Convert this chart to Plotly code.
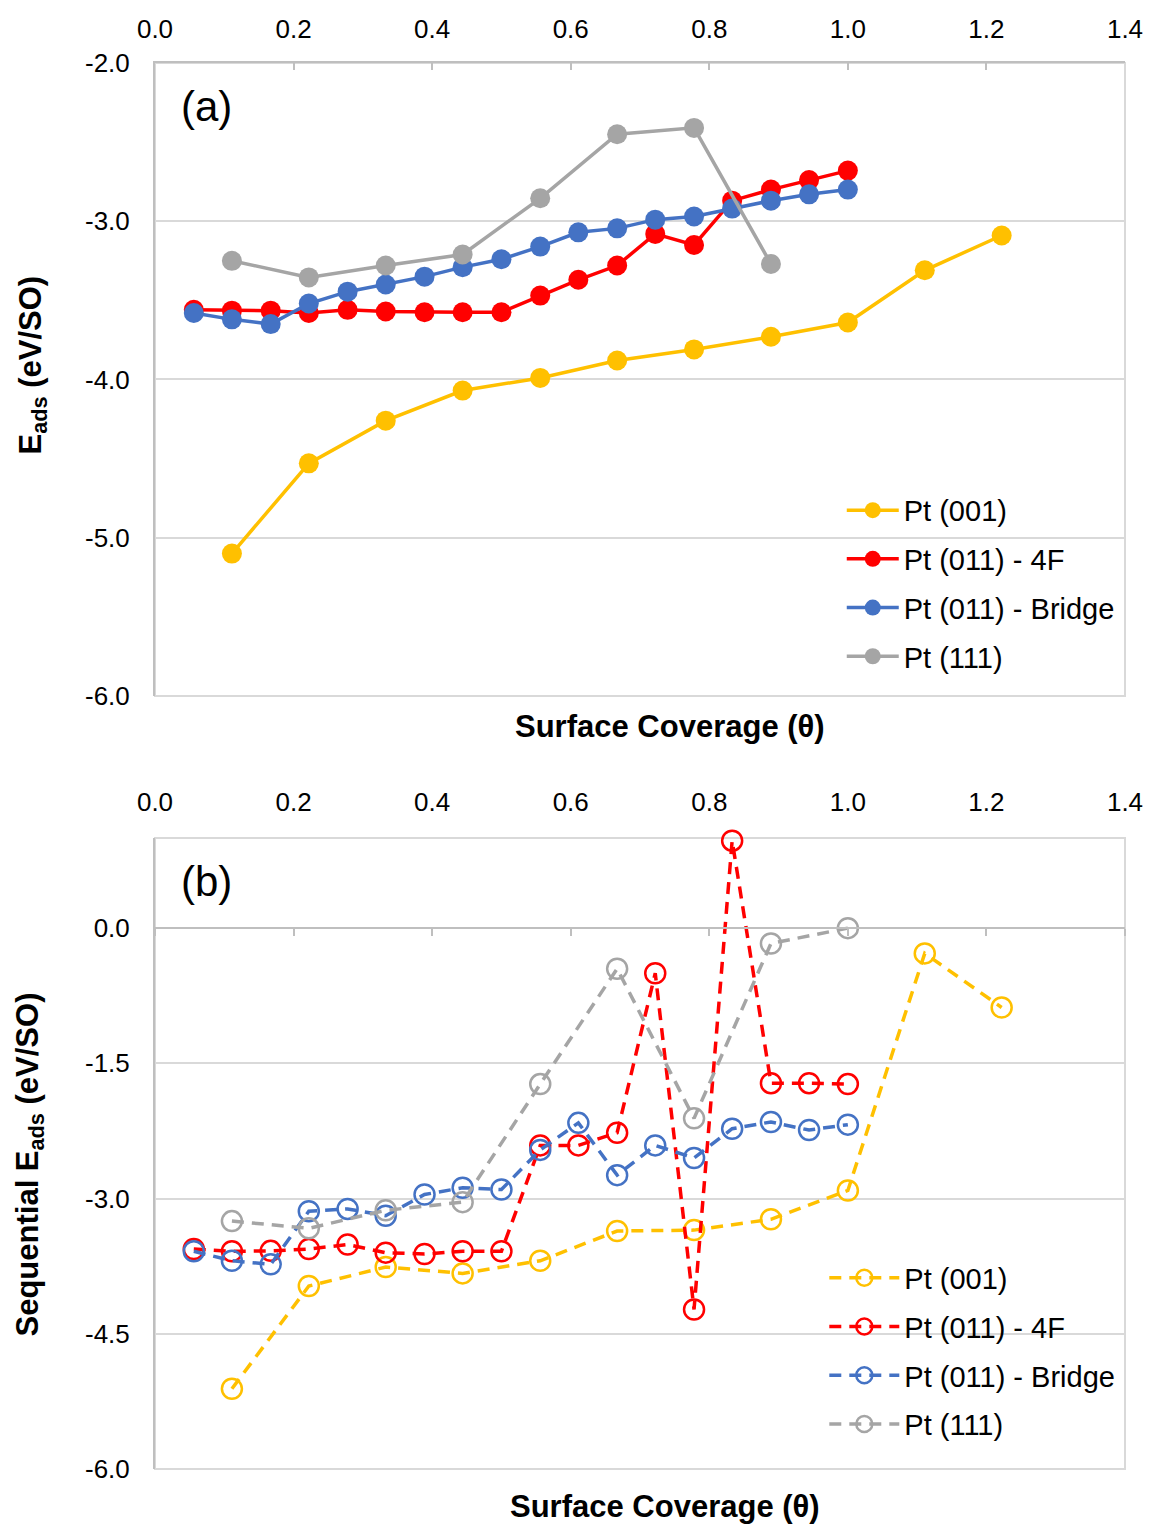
import plotly.graph_objects as go

# ---------------- data ----------------
theta_18 = [0.056, 0.111, 0.167, 0.222, 0.278, 0.333, 0.389, 0.444, 0.500,
            0.556, 0.611, 0.667, 0.722, 0.778, 0.833, 0.889, 0.944, 1.000]
theta_9 = [0.111, 0.222, 0.333, 0.444, 0.556, 0.667, 0.778, 0.889, 1.000, 1.111, 1.222]
theta_111_top = [0.111, 0.222, 0.333, 0.444, 0.556, 0.667, 0.778, 0.889]
theta_111_bot = [0.111, 0.222, 0.333, 0.444, 0.556, 0.667, 0.778, 0.889, 1.000]

series_names = ["Pt (001)", "Pt (011) - 4F", "Pt (011) - Bridge", "Pt (111)"]
series_colors = ["#FFC000", "#FF0000", "#4472C4", "#A5A5A5"]

# (a) adsorption energy
eads_001 = [-5.10, -4.53, -4.26, -4.07, -3.99, -3.88, -3.81, -3.73, -3.64, -3.31, -3.09]
eads_011_4f = [-3.56, -3.565, -3.565, -3.58, -3.56, -3.57, -3.575, -3.575, -3.575,
               -3.47, -3.37, -3.28, -3.08, -3.15, -2.87, -2.80, -2.74, -2.68]
eads_011_br = [-3.58, -3.62, -3.65, -3.52, -3.445, -3.40, -3.35, -3.29, -3.24,
               -3.16, -3.07, -3.045, -2.99, -2.97, -2.92, -2.87, -2.83, -2.80]
eads_111 = [-3.25, -3.355, -3.28, -3.21, -2.855, -2.45, -2.41, -3.27]

# (b) sequential adsorption energy
seq_001 = [-5.11, -3.97, -3.76, -3.83, -3.69, -3.36, -3.35, -3.23, -2.91, -0.28, -0.88]
seq_011_4f = [-3.56, -3.585, -3.58, -3.56, -3.51, -3.60, -3.615, -3.585, -3.585,
              -2.41, -2.41, -2.27, -0.50, -4.23, 0.97, -1.72, -1.72, -1.73]
seq_011_br = [-3.585, -3.69, -3.73, -3.14, -3.115, -3.19, -2.955, -2.88, -2.90,
              -2.46, -2.16, -2.74, -2.41, -2.55, -2.225, -2.15, -2.24, -2.18]
seq_111 = [-3.25, -3.33, -3.13, -3.04, -1.73, -0.45, -2.11, -0.17, 0.0]

x_ticks = [0.0, 0.2, 0.4, 0.6, 0.8, 1.0, 1.2, 1.4]
x_ticktext = ["0.0", "0.2", "0.4", "0.6", "0.8", "1.0", "1.2", "1.4"]
ya_ticks = [-6.0, -5.0, -4.0, -3.0, -2.0]
ya_ticktext = ["-6.0", "-5.0", "-4.0", "-3.0", "-2.0"]
yb_ticks = [-6.0, -4.5, -3.0, -1.5, 0.0]
yb_ticktext = ["-6.0", "-4.5", "-3.0", "-1.5", "0.0"]

# ---------------- figure ----------------
FONT = "Liberation Sans, Arial, sans-serif"
W, H = 1155, 1526
mt, mb, ml, mr = 63, 57, 155, 26
dom_a = [0.5498, 1.0]
dom_b = [0.0, 0.4488]
yb_range = [-6.0, 1.0]

fig = go.Figure()

top_x = [theta_9, theta_18, theta_18, theta_111_top]
top_y = [eads_001, eads_011_4f, eads_011_br, eads_111]
for i, (name, col, xs, ys) in enumerate(zip(series_names, series_colors, top_x, top_y)):
    fig.add_trace(go.Scatter(
        x=xs, y=ys, name=name, mode="lines+markers",
        line=dict(color=col, width=3.5),
        marker=dict(color=col, size=20, symbol="circle"),
        legendgroup=f"a{i}", cliponaxis=False,
        xaxis="x", yaxis="y", legend="legend"))

bot_x = [theta_9, theta_18, theta_18, theta_111_bot]
bot_y = [seq_001, seq_011_4f, seq_011_br, seq_111]
for i, (name, col, xs, ys) in enumerate(zip(series_names, series_colors, bot_x, bot_y)):
    fig.add_trace(go.Scatter(
        x=xs, y=ys, name=name, mode="lines+markers",
        line=dict(color=col, width=3.5, dash="12px,8px"),
        marker=dict(color=col, size=20, symbol="circle-open",
                    line=dict(color=col, width=2.5)),
        legendgroup=f"b{i}", cliponaxis=False,
        xaxis="x2", yaxis="y2", legend="legend2"))

# empty helper trace so the y=0 crossing axis of panel (b) is drawn
fig.add_trace(go.Scatter(x=[None], y=[None], xaxis="x3", yaxis="y2",
                         showlegend=False, hoverinfo="skip", mode="lines"))

tickfont = dict(family=FONT, size=26, color="#000000")
common_x = dict(range=[0, 1.4], tickvals=x_ticks, ticktext=x_ticktext,
                tickfont=tickfont, showgrid=False, zeroline=False, side="top")

fig.update_layout(
    width=W, height=H,
    margin=dict(t=mt, b=mb, l=ml, r=mr, pad=0),
    paper_bgcolor="white", plot_bgcolor="white",
    font=dict(family=FONT, color="#000000"),
    xaxis=dict(**common_x, domain=[0, 1], anchor="y", ticklabelstandoff=13,
               showline=True, linecolor="#BFBFBF", linewidth=2,
               ticks="inside", ticklen=7, tickwidth=2, tickcolor="#BFBFBF"),
    yaxis=dict(domain=dom_a, anchor="x", range=[-6.0, -2.0],
               tickvals=ya_ticks, ticktext=ya_ticktext, tickfont=tickfont,
               showgrid=True, gridcolor="#D9D9D9", gridwidth=2,
               showline=True, linecolor="#BFBFBF", linewidth=2,
               zeroline=False, ticks="", ticklabelstandoff=18),
    xaxis2=dict(**common_x, domain=[0, 1], anchor="y2", ticklabelstandoff=21,
                showline=False, ticks=""),
    xaxis3=dict(range=[0, 1.4], tickvals=x_ticks, overlaying="x2",
                anchor="free",
                position=dom_b[0] + (0 - yb_range[0]) / (yb_range[1] - yb_range[0]) * (dom_b[1] - dom_b[0]),
                side="bottom", showticklabels=False, showgrid=False, zeroline=False,
                showline=True, linecolor="#BFBFBF", linewidth=2,
                ticks="outside", ticklen=7, tickwidth=2, tickcolor="#BFBFBF"),
    yaxis2=dict(domain=dom_b, anchor="x2", range=yb_range,
                tickvals=yb_ticks, ticktext=yb_ticktext, tickfont=tickfont,
                showgrid=True, gridcolor="#D9D9D9", gridwidth=2,
                showline=True, linecolor="#BFBFBF", linewidth=2,
                zeroline=False, ticks="", ticklabelstandoff=18),
    legend=dict(x=0.708, y=0.700, xanchor="left", yanchor="top",
                bgcolor="rgba(0,0,0,0)", borderwidth=0, itemwidth=52,
                font=dict(family=FONT, size=29, color="#000000"),
                tracegroupgap=8),
    legend2=dict(x=0.690, y=0.154, xanchor="left", yanchor="top",
                 bgcolor="rgba(0,0,0,0)", borderwidth=0, itemwidth=70,
                 font=dict(family=FONT, size=29, color="#000000"),
                 tracegroupgap=8),
    showlegend=True,
)

# light-gray plot borders
for xr, yr in [("x domain", "y domain"), ("x2 domain", "y2 domain")]:
    fig.add_shape(type="rect", xref=xr, yref=yr, x0=0, x1=1, y0=0, y1=1,
                  line=dict(color="#D9D9D9", width=2), layer="below")

# panel labels and axis titles
fig.add_annotation(text="(a)", xref="x domain", yref="y domain", x=0.025, y=0.972,
                   xanchor="left", yanchor="top", showarrow=False,
                   font=dict(family=FONT, size=42, color="#000000"))
fig.add_annotation(text="(b)", xref="x2 domain", yref="y2 domain", x=0.025, y=0.972,
                   xanchor="left", yanchor="top", showarrow=False,
                   font=dict(family=FONT, size=42, color="#000000"))

title_font = dict(family=FONT, size=31, color="#000000")
def px_x(p):
    return (p - ml) / (W - ml - mr)
def px_y(p):
    return (H - mb - p) / (H - mt - mb)

for txt, cx, cy, ang in [
        ("<b>Surface Coverage (θ)</b>", 672, 726, 0),
        ("<b>Surface Coverage (θ)</b>", 667, 1506, 0),
        ("<b>E<sub>ads</sub> (eV/SO)</b>", 32, 365, -90),
        ("<b>Sequential E<sub>ads</sub> (eV/SO)</b>", 29, 1165, -90)]:
    fig.add_annotation(text=txt, xref="paper", yref="paper",
                       x=px_x(cx), y=px_y(cy), xanchor="center", yanchor="middle",
                       textangle=ang, showarrow=False, font=title_font)

fig.write_html("out.html")
